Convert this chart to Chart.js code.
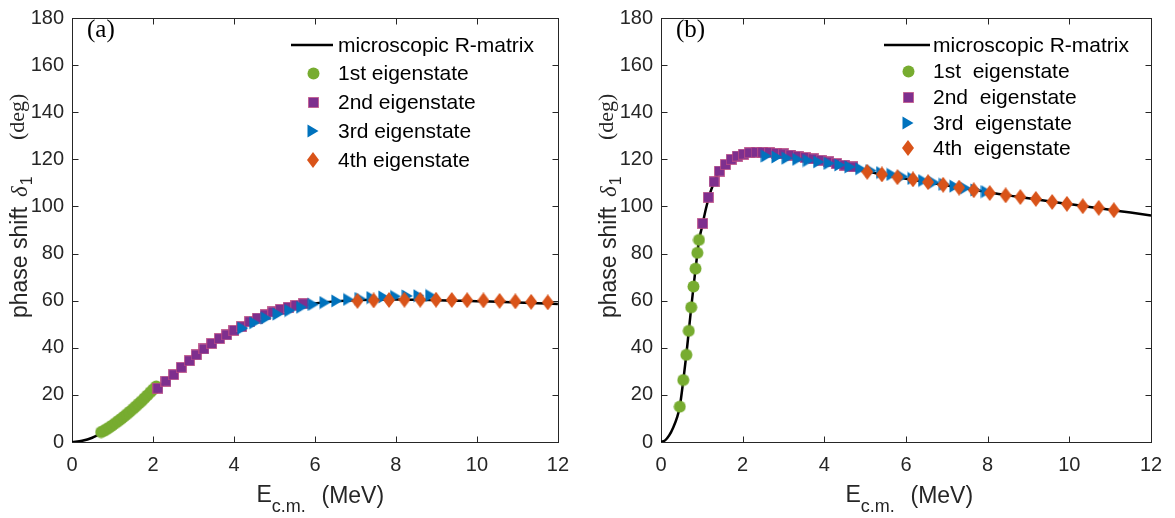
<!DOCTYPE html>
<html>
<head>
<meta charset="utf-8">
<title>Phase shift delta_1</title>
<script src="https://cdn.jsdelivr.net/npm/chart.js@4.4.0/dist/chart.umd.min.js"></script>
<style>
  body { margin: 0; background: #fff; }
  #wrap { position: relative; width: 1175px; height: 518px; }
  canvas { position: absolute; top: 0; }
  #chartA { left: 0; }
  #chartB { left: 589px; }
</style>
</head>
<body>
<div id="wrap">
  <canvas id="chartA" width="580" height="518"></canvas>
  <canvas id="chartB" width="586" height="518"></canvas>
</div>
<script>
// Axis ticks
const xTickValues = [0, 2, 4, 6, 8, 10, 12];
const yTickValues = [0, 20, 40, 60, 80, 100, 120, 140, 160, 180];

// Panel (a): microscopic R-matrix curve and eigenstate points (E in MeV, delta in deg)
const aCurveE = [0, 0.25, 0.5, 0.75, 1, 1.25, 1.5, 1.75, 2, 2.25, 2.5, 2.75, 3, 3.25, 3.5, 3.75, 4, 4.5, 5, 5.5, 6, 6.5, 7, 7.5, 8, 8.5, 9, 9.5, 10, 10.5, 11, 11.5, 12];
const aCurveD = [0, 0.5, 1.8, 4.0, 6.6, 9.5, 12.8, 16.6, 20.6, 24.5, 28.3, 32.0, 35.6, 39.0, 42.1, 44.9, 47.4, 51.6, 54.8, 57.2, 58.8, 59.7, 60.2, 60.4, 60.5, 60.4, 60.2, 60.0, 59.8, 59.5, 59.2, 58.9, 58.6];

const aState1E = [0.72, 0.79, 0.86, 0.93, 1.00, 1.08, 1.15, 1.22, 1.29, 1.36, 1.43, 1.51, 1.58, 1.65, 1.72, 1.79, 1.86, 1.94, 2.01, 2.08];
const aState1D = [4.2, 4.8, 5.5, 6.3, 7.1, 8.1, 9.0, 9.9, 10.9, 11.9, 12.9, 14.1, 15.2, 16.3, 17.4, 18.6, 19.8, 21.2, 22.4, 23.6];
const aState2E = [2.12, 2.32, 2.51, 2.70, 2.90, 3.07, 3.26, 3.45, 3.64, 3.82, 4.00, 4.19, 4.39, 4.58, 4.77, 4.96, 5.15, 5.34, 5.53, 5.72];
const aState2D = [22.8, 25.8, 28.6, 31.7, 34.5, 37.0, 39.5, 41.8, 43.9, 45.5, 47.4, 49.0, 51.1, 52.6, 54.0, 55.2, 56.3, 57.2, 58.0, 58.7];
const aState3E = [4.22, 4.51, 4.80, 5.09, 5.38, 5.67, 5.96, 6.25, 6.54, 6.83, 7.12, 7.41, 7.70, 7.99, 8.28, 8.57, 8.86];
const aState3D = [48.3, 50.6, 52.6, 54.3, 55.8, 57.2, 58.4, 59.2, 59.9, 60.5, 60.9, 61.3, 61.6, 61.8, 62.0, 62.1, 62.2];
const aState4E = [7.05, 7.45, 7.83, 8.21, 8.60, 8.99, 9.38, 9.76, 10.16, 10.56, 10.95, 11.34, 11.75];
const aState4D = [59.9, 60.1, 60.3, 60.4, 60.4, 60.4, 60.3, 60.2, 60.1, 59.9, 59.7, 59.5, 59.3];

// Panel (b)
const bCurveE = [0, 0.1, 0.2, 0.3, 0.4, 0.46, 0.545, 0.62, 0.68, 0.74, 0.8, 0.86, 0.93, 1.0, 1.1, 1.2, 1.3, 1.4, 1.6, 1.8, 2.0, 2.3, 2.6, 3.0, 3.5, 4.0, 4.5, 5.0, 5.5, 6.0, 6.5, 7.0, 7.5, 8.0, 8.5, 9.0, 9.5, 10, 10.5, 11, 11.5, 12];
const bCurveD = [0, 0.7, 2.8, 6.2, 10.8, 15, 26, 37, 47, 57, 66.5, 75.5, 85.5, 91, 99, 105.5, 110.3, 114, 118.6, 121.2, 122.4, 123.0, 122.8, 121.9, 120.4, 118.6, 116.8, 115.0, 113.3, 111.8, 110.3, 108.9, 107.5, 106.1, 104.7, 103.5, 102.2, 101.0, 99.8, 98.6, 97.4, 96.2];

const bState1E = [0.46, 0.545, 0.62, 0.68, 0.74, 0.795, 0.845, 0.89, 0.93];
const bState1D = [15.0, 26.3, 37.0, 47.2, 57.2, 66.0, 73.6, 80.3, 85.8];
const bState2E = [1.02, 1.16, 1.30, 1.43, 1.58, 1.72, 1.87, 2.02, 2.17, 2.33, 2.49, 2.66, 2.83, 3.00, 3.18, 3.36, 3.54, 3.73, 3.92, 4.11, 4.30, 4.50, 4.70];
const bState2D = [92.8, 103.9, 110.5, 115.0, 117.8, 120.0, 121.4, 122.2, 122.8, 123.0, 123.0, 122.9, 122.6, 122.3, 121.8, 121.3, 120.8, 120.2, 119.6, 118.9, 118.2, 117.5, 116.8];
const bState3E = [2.58, 2.84, 3.09, 3.35, 3.61, 3.86, 4.12, 4.38, 4.63, 4.89, 5.15, 5.40, 5.66, 5.92, 6.17, 6.43, 6.69, 6.94, 7.20, 7.46, 7.71, 7.97];
const bState3D = [121.4, 121.0, 120.5, 120.0, 119.5, 118.9, 118.3, 117.6, 116.8, 116.0, 115.2, 114.4, 113.6, 112.7, 111.9, 111.0, 110.2, 109.4, 108.6, 107.8, 107.0, 106.3];
const bState4E = [5.05, 5.41, 5.79, 6.17, 6.54, 6.91, 7.30, 7.66, 8.05, 8.44, 8.80, 9.18, 9.58, 9.94, 10.33, 10.72, 11.09];
const bState4D = [114.7, 113.6, 112.4, 111.5, 110.3, 109.2, 108.0, 106.9, 105.7, 104.7, 104.0, 103.2, 101.9, 101.1, 100.1, 99.4, 98.4];

// Legend entries
const aLabels = ['microscopic R-matrix', '1st eigenstate', '2nd eigenstate', '3rd eigenstate', '4th eigenstate'];
const bLabels = ['microscopic R-matrix', '1st  eigenstate', '2nd  eigenstate', '3rd  eigenstate', '4th  eigenstate'];

const SANS = '"Liberation Sans", Arial, Helvetica, sans-serif';
const SERIF = '"Liberation Serif", "Times New Roman", serif';
const AXIS_COLOR = '#262626';

// Marker sprites (MATLAB-like filled markers)
function makeMarker(w, h, draw) {
    const c = document.createElement('canvas');
    c.width = w;
    c.height = h;
    draw(c.getContext('2d'), w, h);
    return c;
}

const circleMarker = makeMarker(13, 13, (g, w, h) => {
    g.fillStyle = '#77AC30';
    g.beginPath();
    g.arc(w / 2, h / 2, 6, 0, Math.PI * 2);
    g.fill();
});
const squareMarker = makeMarker(11, 11, (g) => {
    g.fillStyle = '#7E2F8E';
    g.fillRect(0.5, 0.5, 10, 10);
    g.strokeStyle = 'rgba(196, 80, 130, 0.7)';
    g.lineWidth = 1;
    g.strokeRect(0.5, 0.5, 10, 10);
});
const triangleMarker = makeMarker(12, 14, (g) => {
    g.fillStyle = '#0072BD';
    g.beginPath();
    g.moveTo(0.5, 0.5);
    g.lineTo(11.5, 7);
    g.lineTo(0.5, 13.5);
    g.closePath();
    g.fill();
});
const diamondMarker = makeMarker(12, 16, (g) => {
    g.fillStyle = '#D95319';
    g.beginPath();
    g.moveTo(6, 0);
    g.lineTo(12, 8);
    g.lineTo(6, 16);
    g.lineTo(0, 8);
    g.closePath();
    g.fill();
});
const markers = [circleMarker, squareMarker, triangleMarker, diamondMarker];

function toPoints(xs, ys) {
    return xs.map((x, i) => ({ x: x, y: ys[i] }));
}

// Box with inward ticks on all four sides
const framePlugin = {
    id: 'frame',
    beforeDatasetsDraw(chart) {
        const { ctx, chartArea: a, scales } = chart;
        const L = 6;
        const left = Math.round(a.left) + 0.5, right = Math.round(a.right) + 0.5;
        const top = Math.round(a.top) + 0.5, bottom = Math.round(a.bottom) + 0.5;
        ctx.save();
        ctx.strokeStyle = AXIS_COLOR;
        ctx.lineWidth = 1;
        ctx.strokeRect(left, top, right - left, bottom - top);
        ctx.beginPath();
        scales.x.ticks.forEach(t => {
            const px = Math.round(scales.x.getPixelForValue(t.value)) + 0.5;
            ctx.moveTo(px, bottom); ctx.lineTo(px, bottom - L);
            ctx.moveTo(px, top); ctx.lineTo(px, top + L);
        });
        scales.y.ticks.forEach(t => {
            const py = Math.round(scales.y.getPixelForValue(t.value)) + 0.5;
            ctx.moveTo(left, py); ctx.lineTo(left + L, py);
            ctx.moveTo(right, py); ctx.lineTo(right - L, py);
        });
        ctx.stroke();
        ctx.restore();
    }
};

// Legend drawn inside the axes, no box
const legendPlugin = {
    id: 'eigenLegend',
    afterDraw(chart, args, opts) {
        const ctx = chart.ctx;
        ctx.save();
        ctx.font = `21px ${SANS}`;
        ctx.fillStyle = '#000';
        ctx.textBaseline = 'middle';
        chart.data.datasets.forEach((ds, i) => {
            const y = opts.rows[i];
            if (i === 0) {
                ctx.strokeStyle = '#000';
                ctx.lineWidth = 2.5;
                ctx.beginPath();
                ctx.moveTo(opts.lineX0, y);
                ctx.lineTo(opts.lineX1, y);
                ctx.stroke();
            } else {
                const m = ds.pointStyle;
                ctx.drawImage(m, Math.round(opts.markerX - m.width / 2), Math.round(y - m.height / 2));
            }
            ctx.fillText(ds.label, opts.textX, y + 1);
        });
        ctx.restore();
    }
};

// Panel tag and axis titles
const titlePlugin = {
    id: 'panelText',
    afterDraw(chart, args, opts) {
        const { ctx, chartArea: a } = chart;
        ctx.save();
        ctx.fillStyle = '#000';
        ctx.textBaseline = 'alphabetic';
        ctx.font = `25px ${SERIF}`;
        ctx.fillText(opts.tag, a.left + 15, 37);

        // x title: E_c.m. (MeV)
        ctx.fillStyle = AXIS_COLOR;
        const x0 = a.left + 184.5, base = 502;
        ctx.font = `23px ${SANS}`;
        ctx.fillText('E', x0, base);
        const ew = ctx.measureText('E').width;
        ctx.font = `18px ${SANS}`;
        ctx.fillText('c.m.', x0 + ew, base + 10);
        ctx.font = `23px ${SANS}`;
        ctx.fillText('(MeV)', x0 + 65, base + 1);

        // y title: phase shift delta_1 (deg)
        ctx.translate(a.left - 45.5, 318);
        ctx.rotate(-Math.PI / 2);
        ctx.font = `23px ${SANS}`;
        ctx.fillText('phase shift', 0, 0);
        ctx.font = `italic 23px ${SERIF}`;
        ctx.fillText('\u03B4', 121, 0);
        const dw = ctx.measureText('\u03B4').width;
        ctx.font = `16px ${SANS}`;
        ctx.fillText('1', 121 + dw + 1, 5);
        ctx.font = `22px ${SERIF}`;
        ctx.fillText('(deg)', 178, -3);
        ctx.restore();
    }
};

function buildPanel(canvasId, curveE, curveD, states, labels, tag, padRight, legendOpts) {
    const datasets = [{
        label: labels[0],
        data: toPoints(curveE, curveD),
        showLine: true,
        borderColor: '#000',
        borderWidth: 2.5,
        pointRadius: 0,
        cubicInterpolationMode: 'monotone',
        order: 5
    }];
    states.forEach((s, i) => {
        datasets.push({
            label: labels[i + 1],
            data: toPoints(s[0], s[1]),
            showLine: false,
            pointStyle: markers[i],
            pointRadius: 6,
            order: 4 - i
        });
    });

    return new Chart(document.getElementById(canvasId), {
        type: 'scatter',
        data: { datasets },
        options: {
            responsive: false,
            animation: false,
            devicePixelRatio: 1,
            layout: { padding: { top: 10, right: padRight, bottom: 0, left: 0 } },
            plugins: {
                legend: { display: false },
                tooltip: { enabled: false },
                eigenLegend: legendOpts,
                panelText: { tag: tag }
            },
            scales: {
                x: {
                    type: 'linear', min: 0, max: 12,
                    grid: { display: false, drawTicks: false },
                    border: { display: false },
                    afterBuildTicks: s => { s.ticks = xTickValues.map(v => ({ value: v })); },
                    afterFit: s => { s.height = 76; },
                    ticks: { font: { family: SANS, size: 20 }, color: AXIS_COLOR, padding: 11, maxRotation: 0, autoSkip: false }
                },
                y: {
                    type: 'linear', min: 0, max: 180,
                    grid: { display: false, drawTicks: false },
                    border: { display: false },
                    afterBuildTicks: s => { s.ticks = yTickValues.map(v => ({ value: v })); },
                    afterFit: s => { s.width = 72; },
                    ticks: { font: { family: SANS, size: 20, lineHeight: 1 }, color: AXIS_COLOR, padding: 8, autoSkip: false }
                }
            }
        },
        plugins: [framePlugin, legendPlugin, titlePlugin]
    });
}

buildPanel('chartA', aCurveE, aCurveD,
    [[aState1E, aState1D], [aState2E, aState2D], [aState3E, aState3D], [aState4E, aState4D]],
    aLabels, '(a)', 18,
    { lineX0: 291, lineX1: 333, markerX: 313, textX: 338, rows: [45, 73.5, 102.5, 131, 160] });

buildPanel('chartB', bCurveE, bCurveD,
    [[bState1E, bState1D], [bState2E, bState2D], [bState3E, bState3D], [bState4E, bState4D]],
    bLabels, '(b)', 24,
    { lineX0: 295, lineX1: 341, markerX: 319, textX: 344, rows: [45, 71.5, 97.5, 123, 148] });
</script>
</body>
</html>
